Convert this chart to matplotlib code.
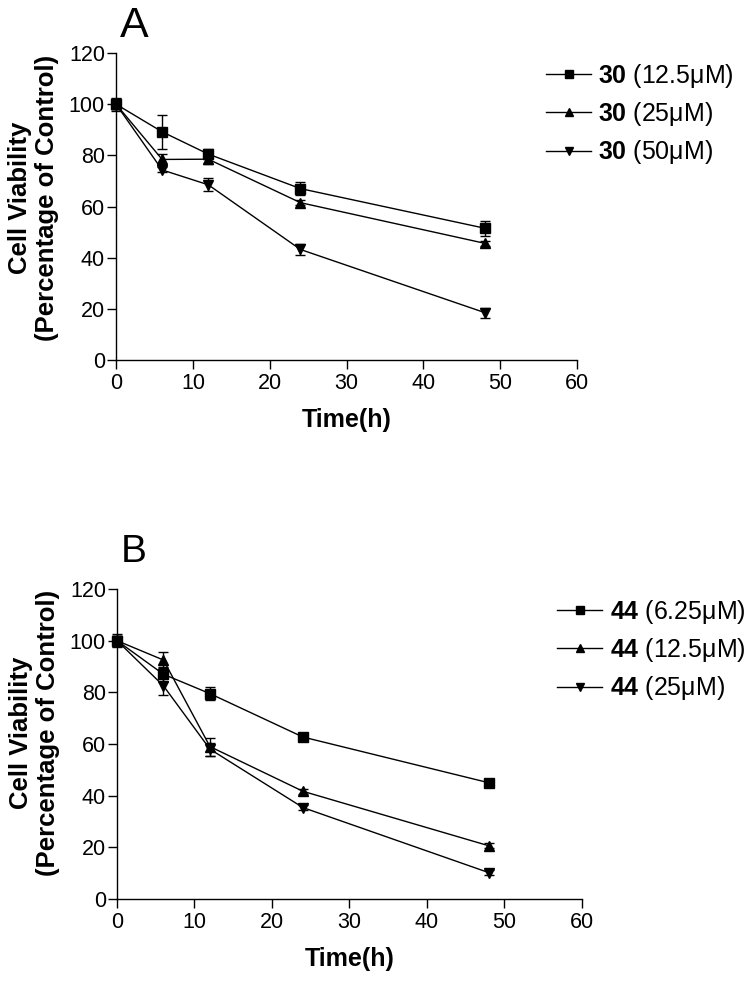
import matplotlib
matplotlib.use("Agg")
import matplotlib.pyplot as plt
from matplotlib.lines import Line2D

plt.rcParams["font.family"] = ["Liberation Sans", "DejaVu Sans"]
plt.rcParams["mathtext.fontset"] = "custom"
plt.rcParams["mathtext.rm"] = "Liberation Sans"
plt.rcParams["mathtext.bf"] = "Liberation Sans:bold"

time_h = [0, 6, 12, 24, 48]

# Panel A: compound 30
a_labels = [r"$\mathbf{30}$ (12.5μM)", r"$\mathbf{30}$ (25μM)", r"$\mathbf{30}$ (50μM)"]
a_values = [
    [100, 89.2, 80.5, 67.0, 51.5],
    [100, 78.4, 78.5, 61.5, 45.6],
    [100, 74.3, 68.5, 43.2, 18.5],
]
a_errors = [
    [2.5, 6.6, 2.0, 2.5, 3.0],
    [2.0, 2.0, 2.0, 1.0, 1.0],
    [2.0, 1.0, 2.5, 2.0, 2.0],
]

# Panel B: compound 44
b_labels = [r"$\mathbf{44}$ (6.25μM)", r"$\mathbf{44}$ (12.5μM)", r"$\mathbf{44}$ (25μM)"]
b_values = [
    [100, 87.0, 79.5, 62.7, 45.0],
    [100, 92.5, 59.0, 41.7, 20.6],
    [100, 82.5, 58.0, 35.4, 10.2],
]
b_errors = [
    [2.5, 3.0, 2.5, 1.0, 1.0],
    [2.0, 3.0, 3.5, 1.0, 1.0],
    [2.0, 3.5, 2.5, 1.0, 1.0],
]

markers = ["s", "^", "v"]


def draw_panel(fig, ax, values, errors, labels, letter, letter_size, letter_y, ylabel_y, legend_xy):
    for vals, errs, mk in zip(values, errors, markers):
        eb = ax.errorbar(time_h, vals, yerr=errs, color="black", marker=mk, markersize=6.5,
                         linewidth=1.0, elinewidth=1.0, capsize=3.5, capthick=1.0)
        for artist in eb.lines[0:1] + tuple(eb.lines[1]) + tuple(eb.lines[2]):
            artist.set_clip_on(False)
    ax.set_xlim(0, 60)
    ax.set_ylim(0, 120)
    ax.set_xticks(range(0, 61, 10))
    ax.set_yticks(range(0, 121, 20))
    for side in ("top", "right"):
        ax.spines[side].set_visible(False)
    for side in ("left", "bottom"):
        ax.spines[side].set_linewidth(1.0)
    ax.tick_params(direction="out", length=6.5, width=1.0, labelsize=15.5)
    ax.tick_params(axis="x", pad=3)
    ax.tick_params(axis="y", pad=1.5)
    ax.set_xlabel("Time(h)", fontsize=18, fontweight="bold", labelpad=10)
    ax.set_ylabel("Cell Viability\n(Percentage of Control)", fontsize=18.5,
                  fontweight="bold", labelpad=7, linespacing=1.15)
    ax.yaxis.label.set_y(ylabel_y)
    ax.text(0.008, letter_y, letter, transform=ax.transAxes, fontsize=letter_size,
            va="baseline", ha="left")

    handles = [Line2D([], [], color="black", marker=mk, markersize=5.5, linewidth=1.0)
               for mk in markers]
    x_px, y_px = legend_xy
    fig.legend(handles, labels, loc="center left",
               bbox_to_anchor=(x_px / 751, 1 - y_px / 982), bbox_transform=fig.transFigure,
               frameon=False, fontsize=18, handlelength=1.8, handletextpad=0.3,
               labelspacing=0.42, borderpad=0, borderaxespad=0)


fig = plt.figure(figsize=(7.51, 9.82), dpi=100)
ax_a = fig.add_axes([0.1545, 0.6334, 0.614, 0.3126])
ax_b = fig.add_axes([0.1558, 0.0845, 0.619, 0.3157])

draw_panel(fig, ax_a, a_values, a_errors, a_labels, "A", 31, 1.052, 0.527, (546, 114))
draw_panel(fig, ax_b, b_values, b_errors, b_labels, "B", 28, 1.087, 0.535, (557, 650))

fig.savefig("out.png", dpi=100)
